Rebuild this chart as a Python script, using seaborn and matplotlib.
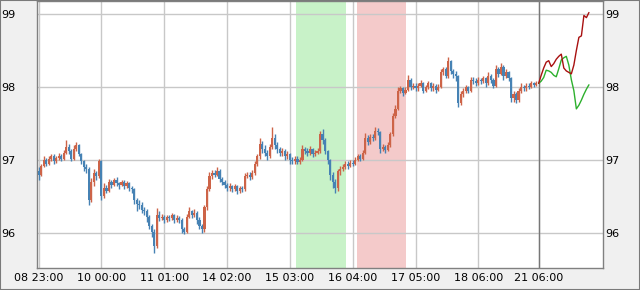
import numpy as np
import pandas as pd
import matplotlib
matplotlib.use("Agg")
import matplotlib.pyplot as plt
import matplotlib.transforms as mtransforms
import seaborn as sns
from matplotlib.patches import Rectangle

# ---------------- data ----------------
first_open = 96.85
closes = [
    96.80, 96.92, 97.00, 96.95, 97.02, 97.05, 96.98, 97.03, 97.06, 97.02,
    97.10, 97.18, 97.12, 97.02, 97.15, 97.20, 97.08, 96.98, 96.90, 96.88,
    96.45, 96.70, 96.82, 96.78, 96.98, 96.50, 96.62, 96.58, 96.70, 96.66,
    96.72, 96.68, 96.66, 96.70, 96.64, 96.68, 96.62, 96.60, 96.45, 96.40,
    96.38, 96.32, 96.30, 96.22, 96.10, 96.02, 95.82, 96.25, 96.20, 96.22,
    96.18, 96.22, 96.20, 96.24, 96.18, 96.20, 96.18, 96.05, 96.02, 96.22,
    96.30, 96.24, 96.28, 96.18, 96.10, 96.05, 96.35, 96.60, 96.78, 96.82,
    96.80, 96.85, 96.74, 96.70, 96.66, 96.62, 96.64, 96.60, 96.64, 96.58,
    96.62, 96.60, 96.78, 96.80, 96.76, 96.82, 96.95, 97.05, 97.22, 97.15,
    97.10, 97.05, 97.18, 97.30, 97.20, 97.15, 97.10, 97.12, 97.05, 97.08,
    97.00, 96.98, 97.02, 96.97, 97.00, 97.15, 97.12, 97.10, 97.15, 97.08,
    97.10, 97.12, 97.35, 97.28, 97.12, 97.00, 96.80, 96.70, 96.62, 96.85,
    96.88, 96.90, 96.95, 96.92, 96.96, 96.95, 97.00, 97.05, 97.02, 97.10,
    97.30, 97.25, 97.32, 97.30, 97.40, 97.38, 97.15, 97.18, 97.14, 97.20,
    97.35, 97.60, 97.70, 97.95, 97.98, 97.92, 97.96, 98.10, 98.00, 98.02,
    97.98, 98.02, 98.05, 97.95, 98.00, 98.05, 97.98, 98.02, 97.96, 98.00,
    98.20, 98.25, 98.15, 98.35, 98.22, 98.18, 98.15, 97.78, 97.90, 97.95,
    98.00, 97.95, 98.10, 98.08, 98.05, 98.10, 98.08, 98.12, 98.05, 98.15,
    98.10, 98.02, 98.25, 98.18, 98.28, 98.15, 98.20, 98.12, 97.85, 97.90,
    97.82, 97.95, 98.00, 97.98, 98.02, 98.00, 98.05, 98.03, 98.05,
]
highs = [
    96.90, 96.95, 97.05, 97.03, 97.06, 97.08, 97.08, 97.06, 97.10, 97.08,
    97.13, 97.27, 97.22, 97.15, 97.20, 97.25, 97.22, 97.10, 97.00, 96.95,
    96.90, 96.75, 96.88, 96.85, 97.02, 97.00, 96.68, 96.66, 96.74, 96.72,
    96.75, 96.76, 96.70, 96.73, 96.72, 96.71, 96.70, 96.65, 96.62, 96.48,
    96.45, 96.42, 96.36, 96.33, 96.25, 96.12, 96.05, 96.34, 96.30, 96.26,
    96.25, 96.25, 96.24, 96.28, 96.26, 96.24, 96.23, 96.20, 96.08, 96.26,
    96.36, 96.32, 96.33, 96.30, 96.22, 96.12, 96.38, 96.65, 96.84, 96.86,
    96.86, 96.90, 96.87, 96.77, 96.73, 96.68, 96.68, 96.66, 96.67, 96.66,
    96.65, 96.64, 96.82, 96.84, 96.83, 96.86, 96.98, 97.08, 97.30, 97.26,
    97.20, 97.14, 97.22, 97.45, 97.35, 97.24, 97.18, 97.16, 97.15, 97.12,
    97.10, 97.04, 97.06, 97.05, 97.04, 97.20, 97.18, 97.16, 97.19, 97.17,
    97.14, 97.16, 97.40, 97.42, 97.30, 97.14, 97.02, 96.84, 96.74, 96.88,
    96.92, 96.95, 96.98, 96.98, 97.00, 97.00, 97.04, 97.08, 97.08, 97.14,
    97.37, 97.34, 97.36, 97.36, 97.45, 97.44, 97.40, 97.22, 97.21, 97.24,
    97.39, 97.65, 97.76, 98.00, 98.02, 98.00, 98.00, 98.16, 98.12, 98.06,
    98.05, 98.06, 98.10, 98.07, 98.03, 98.08, 98.07, 98.05, 98.04, 98.04,
    98.25, 98.28, 98.27, 98.41, 98.37, 98.25, 98.22, 98.16, 97.94, 97.98,
    98.03, 98.02, 98.14, 98.13, 98.12, 98.14, 98.12, 98.15, 98.14, 98.20,
    98.18, 98.12, 98.30, 98.28, 98.33, 98.30, 98.24, 98.22, 98.14, 97.95,
    97.93, 97.98, 98.05, 98.03, 98.06, 98.05, 98.08, 98.07, 98.08,
]
lows = [
    96.72, 96.78, 96.90, 96.92, 96.93, 96.98, 96.95, 96.96, 97.00, 96.98,
    97.00, 97.08, 97.08, 96.98, 97.00, 97.12, 97.05, 96.95, 96.85, 96.82,
    96.38, 96.42, 96.65, 96.72, 96.75, 96.45, 96.48, 96.55, 96.56, 96.62,
    96.64, 96.65, 96.60, 96.64, 96.60, 96.62, 96.58, 96.55, 96.40, 96.30,
    96.33, 96.28, 96.24, 96.15, 96.05, 95.95, 95.73, 95.80, 96.16, 96.18,
    96.14, 96.15, 96.16, 96.18, 96.14, 96.15, 96.14, 96.00, 95.98, 96.00,
    96.20, 96.20, 96.22, 96.12, 96.05, 96.00, 96.02, 96.32, 96.58, 96.74,
    96.76, 96.78, 96.70, 96.66, 96.62, 96.58, 96.58, 96.56, 96.57, 96.54,
    96.55, 96.56, 96.58, 96.75, 96.73, 96.74, 96.80, 96.92, 97.02, 97.10,
    97.05, 97.00, 97.03, 97.15, 97.15, 97.10, 97.05, 97.06, 97.00, 97.02,
    96.95, 96.94, 96.95, 96.94, 96.95, 96.98, 97.08, 97.06, 97.07, 97.04,
    97.05, 97.08, 97.10, 97.22, 97.08, 96.95, 96.72, 96.62, 96.55, 96.58,
    96.80, 96.85, 96.88, 96.88, 96.90, 96.92, 96.93, 96.98, 96.98, 97.00,
    97.08, 97.20, 97.22, 97.26, 97.28, 97.34, 97.10, 97.12, 97.10, 97.12,
    97.18, 97.33, 97.58, 97.68, 97.92, 97.88, 97.90, 97.94, 97.96, 97.97,
    97.94, 97.95, 98.00, 97.92, 97.93, 97.97, 97.95, 97.95, 97.92, 97.94,
    97.98, 98.16, 98.12, 98.12, 98.18, 98.12, 98.08, 97.73, 97.76, 97.86,
    97.92, 97.92, 97.93, 98.04, 98.02, 98.03, 98.04, 98.05, 98.00, 98.03,
    98.05, 97.98, 98.00, 98.14, 98.16, 98.10, 98.12, 98.08, 97.80, 97.80,
    97.78, 97.80, 97.92, 97.94, 97.95, 97.97, 97.98, 98.00, 98.01,
]

tick_positions = [0, 25, 50, 75, 100, 125, 150, 175, 199]
tick_labels = ["08 23:00", "10 00:00", "11 01:00", "14 02:00", "15 03:00",
               "16 04:00", "17 05:00", "18 06:00", "21 06:00"]
y_ticks = [96, 97, 98, 99]

forecast_start = 199
forecast_up = [98.05, 98.16, 98.26, 98.34, 98.36, 98.28, 98.32, 98.38, 98.42, 98.45,
               98.26, 98.22, 98.20, 98.18, 98.30, 98.50, 98.68, 98.70, 98.98, 98.95, 99.02]
forecast_down = [98.05, 98.08, 98.13, 98.23, 98.22, 98.20, 98.16, 98.14, 98.25, 98.37,
                 98.40, 98.42, 98.30, 98.10, 97.95, 97.70, 97.75, 97.82, 97.90, 97.97, 98.03]

green_span = (102.5, 122.3)
red_span = (126.7, 146.1)

# ---------------- style ----------------
sns.set_style("white")
plt.rcParams["font.family"] = ["DejaVu Sans"]

UP = "#cd6448"
DOWN = "#4682b4"

fig = plt.figure(figsize=(6.4, 2.9), dpi=100, facecolor="#f0f0f0")
ax = fig.add_axes([37 / 640, 22 / 290, 566 / 640, 267 / 290])
ax.set_facecolor("white")

n = len(closes)
idx = np.arange(n)
opens = np.array([first_open] + closes[:-1])
closes_a = np.array(closes)
up = closes_a >= opens

# shaded regions
ax.axvspan(*green_span, color="#c8f2c8", zorder=0, lw=0)
ax.axvspan(*red_span, color="#f4caca", zorder=0, lw=0)

# grid
ax.set_xticks(tick_positions)
ax.set_xticklabels(tick_labels)
ax.set_yticks(y_ticks)
ax.grid(True, color="#c8c8c8", lw=1)
for gl in ax.get_xgridlines() + ax.get_ygridlines():
    gl.set_zorder(0.5)

# candles
colors = np.where(up, UP, DOWN)
ax.vlines(idx, lows, highs, colors=colors, lw=1.0, zorder=2)
body_bottom = np.minimum(opens, closes_a)
body_h = np.maximum(np.abs(closes_a - opens), 0.015)
ax.bar(idx, body_h, bottom=body_bottom, width=0.85, color=colors, lw=0, zorder=3)

# divider
ax.axvline(forecast_start, color="#777777", lw=1, zorder=1)

# forecasts
fdf = pd.DataFrame({
    "x": np.arange(forecast_start, forecast_start + len(forecast_up)),
    "up": forecast_up,
    "down": forecast_down,
})
sns.lineplot(data=fdf, x="x", y="down", ax=ax, color="#2db02d", lw=1, zorder=4)
sns.lineplot(data=fdf, x="x", y="up", ax=ax, color="#a81010", lw=1, zorder=4)
ax.set_xlabel("")
ax.set_ylabel("")

ax.set_xlim(-0.64, 224.6)
ax.set_ylim(95.52, 99.178)

for s in ax.spines.values():
    s.set_visible(True)
    s.set_color("#808080")
    s.set_linewidth(1)

ax.tick_params(axis="both", length=0, labelsize=8, colors="black")
ax.tick_params(axis="x", pad=3.5)
ax.tick_params(axis="y", left=False, right=False, labelleft=True, labelright=True, pad=1.5)
offset = mtransforms.ScaledTranslation(-34 / 100, 0, fig.dpi_scale_trans)
for t in ax.yaxis.get_major_ticks():
    t.label1.set_horizontalalignment("left")
    t.label1.set_transform(t.label1.get_transform() + offset)

fig.patches.append(Rectangle((0, 0), 1, 1, transform=fig.transFigure, fill=False,
                             edgecolor="#7a7a7a", lw=1.5, zorder=10))

fig.savefig("out.png", dpi=100, facecolor=fig.get_facecolor())
